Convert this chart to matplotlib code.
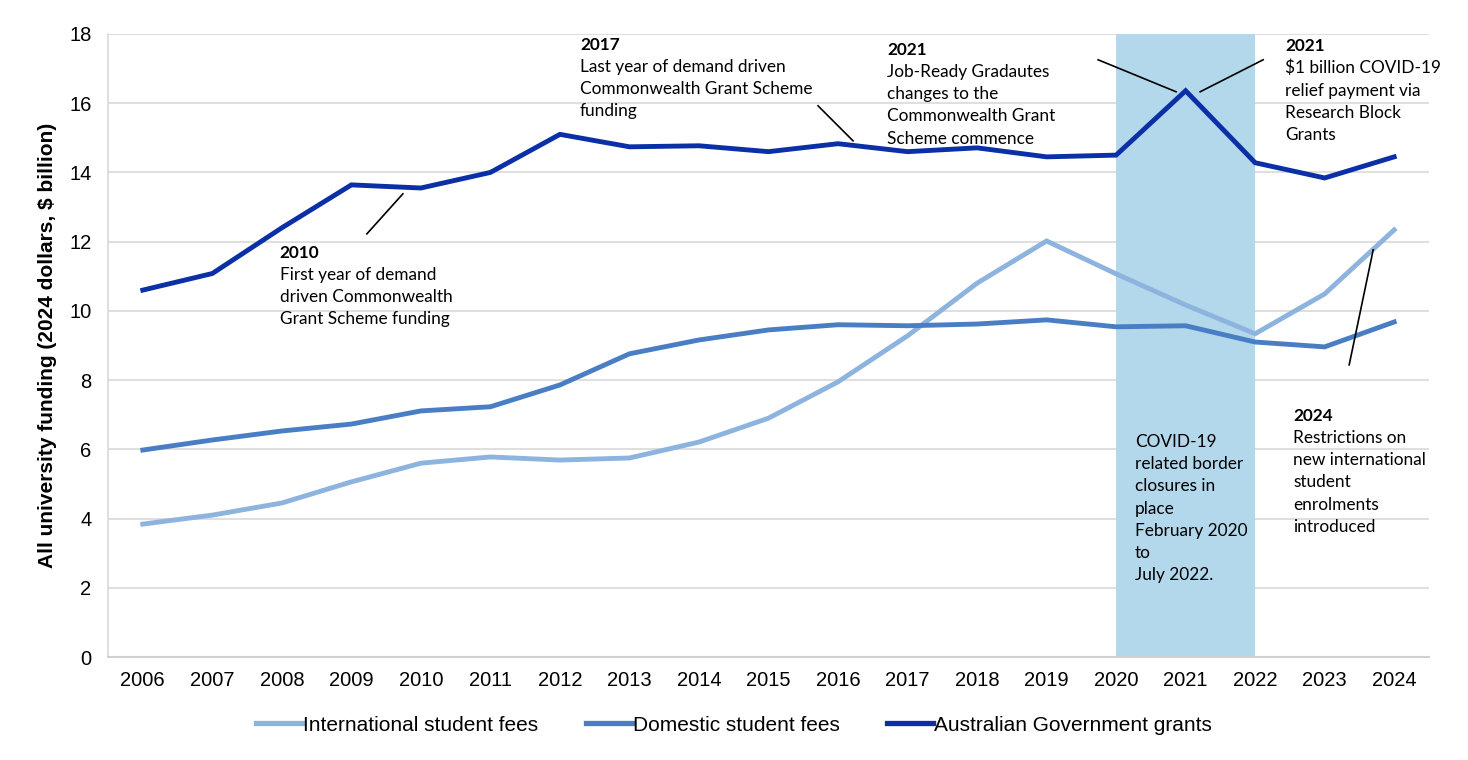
import matplotlib
matplotlib.use("Agg")
import matplotlib.pyplot as plt
from matplotlib.lines import Line2D

years = [2006, 2007, 2008, 2009, 2010, 2011, 2012, 2013, 2014, 2015,
         2016, 2017, 2018, 2019, 2020, 2021, 2022, 2023, 2024]
international = [3.84, 4.10, 4.45, 5.06, 5.60, 5.78, 5.69, 5.75, 6.21, 6.90,
                 7.95, 9.28, 10.80, 12.02, 11.07, 10.17, 9.34, 10.49, 12.34]
domestic = [5.98, 6.27, 6.53, 6.73, 7.11, 7.23, 7.86, 8.76, 9.16, 9.45,
            9.60, 9.57, 9.62, 9.74, 9.54, 9.57, 9.10, 8.96, 9.68]
grants = [10.60, 11.08, 12.40, 13.64, 13.55, 14.00, 15.10, 14.74, 14.77, 14.60,
          14.83, 14.60, 14.71, 14.45, 14.50, 16.36, 14.28, 13.84, 14.45]
series_names = ["International student fees", "Domestic student fees",
                "Australian Government grants"]
colors = ["#8DB3DF", "#4A7EC4", "#0A2FA6"]
yticks = [0, 2, 4, 6, 8, 10, 12, 14, 16, 18]

ANN_FONT = ["Lato", "DejaVu Sans"]
AX_FONT = ["Liberation Sans", "DejaVu Sans"]

fig = plt.figure(figsize=(14.68, 7.6), dpi=100)
ax = fig.add_axes([0.0736, 0.1355, 0.8998, 0.8198])

x = list(range(len(years)))
for vals, name, c in zip([international, domestic, grants], series_names, colors):
    ax.plot(x, vals, color=c, lw=3.5, label=name, solid_joinstyle="miter", zorder=3)

# COVID shaded region 2020-2022
i20 = years.index(2020)
i22 = years.index(2022)
ax.axvspan(i20, i22, color="#B3D8EC", zorder=1, lw=0)

ax.set_xlim(-0.5, len(years) - 0.5)
ax.set_ylim(0, 18)
ax.set_yticks(yticks)
ax.set_xticks(x)
ax.set_xticklabels([str(y) for y in years], fontsize=14.5, family=AX_FONT)
ax.set_yticklabels([str(t) for t in yticks], fontsize=14.5, family=AX_FONT)
ax.tick_params(axis="x", length=0, pad=10)
ax.tick_params(axis="y", length=0, pad=12)
ax.grid(axis="y", color="#D9D9D9", lw=1.2, zorder=0)
ax.set_axisbelow(True)
for s in ["top", "right"]:
    ax.spines[s].set_visible(False)
ax.spines["left"].set_color("#D9D9D9")
ax.spines["left"].set_linewidth(1.2)
ax.spines["bottom"].set_color("#D0D0D0")
ax.spines["bottom"].set_linewidth(1.5)

ax.set_ylabel("All university funding (2024 dollars, $ billion)", fontsize=15,
              fontweight="bold", family=AX_FONT, labelpad=9)

# helpers to convert reference pixel positions to data coords
def px(xp):
    return (xp - 143) / 69.5

def py(yp):
    return (657 - yp) / 34.6

FS = 12.4
LS = 1.48

def note(xp, yp, title, body):
    ax.text(px(xp), py(yp), title, fontsize=FS, fontweight="bold", family=ANN_FONT,
            ha="left", va="center", zorder=5)
    ax.text(px(xp), py(yp + 14), body, fontsize=FS, family=ANN_FONT,
            ha="left", va="top", linespacing=LS, zorder=5)

note(280, 253, "2010", "First year of demand\ndriven Commonwealth\nGrant Scheme funding")
note(580, 45, "2017", "Last year of demand driven\nCommonwealth Grant Scheme\nfunding")
note(887, 50, "2021", "Job-Ready Gradautes\nchanges to the\nCommonwealth Grant\nScheme commence")
note(1285, 46, "2021", "$1 billion COVID-19\nrelief payment via\nResearch Block\nGrants")
note(1293, 416, "2024", "Restrictions on\nnew international\nstudent\nenrolments\nintroduced")
ax.text(px(1135), py(434), "COVID-19\nrelated border\nclosures in\nplace\nFebruary 2020\nto\nJuly 2022.",
        fontsize=FS, family=ANN_FONT, ha="left", va="top", linespacing=LS, zorder=5)

# leader lines
for (x0, y0, x1, y1) in [(367, 234, 403, 194), (818, 106, 853, 141),
                         (1098, 60, 1176, 92), (1200, 92, 1263, 60),
                         (1373, 250, 1349, 365)]:
    ax.plot([px(x0), px(x1)], [py(y0), py(y1)], color="black", lw=1.2, zorder=4,
            clip_on=False)

handles = [Line2D([0], [0], color=c, lw=3.8) for c in colors]
fig.legend(handles, series_names, loc="center", bbox_to_anchor=(0.50, 0.046),
           ncol=3, frameon=False, handlelength=2.2, handletextpad=0.05,
           columnspacing=2.3, prop={"family": AX_FONT, "size": 15})

fig.savefig("out.png", dpi=100)
